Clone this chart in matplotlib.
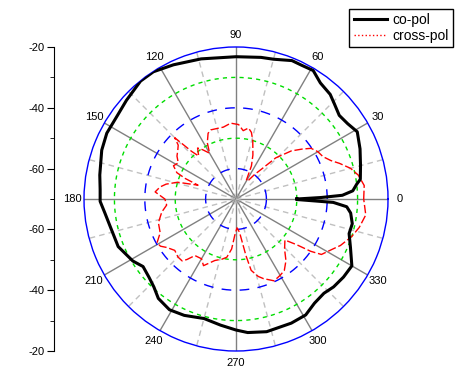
import numpy as np
import matplotlib.pyplot as plt
from matplotlib.lines import Line2D

plt.rcParams['font.family'] = ['Liberation Sans', 'DejaVu Sans']

# co-pol pattern, angle (deg) / level (dB)
co_ang = [0, 1, 2, 4, 7, 9, 15, 22, 29, 34, 39, 44, 48, 54, 59, 64, 68, 75, 80, 90,
          104, 115, 123, 129, 138, 145, 153, 160, 170, 176, 181, 186, 192, 202, 211,
          216, 222, 227, 232, 239, 246, 255, 263, 270, 275, 283, 294, 301, 307, 313,
          318, 324, 330, 337, 343, 348, 353, 356, 358, 359.5, 360]
co_db = [-50, -42, -35, -31.5, -30, -28.6, -27.6, -26, -24.4, -25.7, -26.3, -25, -23.7,
         -22.8, -20.7, -21, -20.9, -22.4, -22.7, -23.2, -22.5, -21.3, -20.1, -20.1, -21.5,
         -22.3, -22.3, -23, -24.5, -25.2, -25.3, -26.6, -27.6, -28.2, -30.4, -32.2, -31.5,
         -30.4, -28.5, -27.5, -28.1, -29.3, -28.2, -26.9, -25.9, -25.2, -25.3, -25.5,
         -27.1, -27.6, -26.8, -26.3, -26, -29.1, -31.1, -30.9, -32, -33.5, -38, -50, -50]

# cross-pol pattern
cx_ang = [0, 6, 11, 15, 19, 22, 26, 30, 34, 37, 41, 46, 49, 53, 57, 61, 65, 69, 74, 77,
          80, 84, 88, 94, 100, 104, 110, 113, 117, 120, 124, 127, 131, 133, 135, 137, 140,
          144, 148, 152, 156, 158, 160, 164, 168, 171, 175, 180, 185, 190, 197, 204, 209,
          212, 215, 220, 225, 229, 231, 234, 240, 244, 251, 257, 261, 265, 268, 272, 276,
          280, 282, 286, 289, 295, 300, 304, 309, 314, 320, 323, 325, 327, 333, 336, 342,
          347, 353, 360]
cx_db = [-28, -27.6, -29, -31, -34, -36.3, -38.2, -38.9, -40.2, -42.7, -45.9, -51.2, -56.5,
         -60, -63, -63, -58, -54.5, -50, -47.5, -46.3, -47.4, -45.5, -45, -46, -46, -45.8,
         -46.5, -49.2, -52.6, -50.5, -49, -51.3, -48.6, -41.5, -44, -45, -46, -47.6, -46.7,
         -48.7, -52, -56.7, -50, -46.5, -44.7, -43.3, -46.6, -47.1, -45.2, -43.3, -42.7,
         -40.3, -40.7, -42.2, -43.7, -43, -43, -44.4, -47, -47.3, -45.6, -48.6, -49.7,
         -50.6, -53.5, -58, -60.5, -59, -51, -46, -43.5, -42.3, -40.3, -41, -41.6, -43.9,
         -47, -49, -45, -40, -36.5, -34, -32.4, -30, -28.4, -27, -28]

r_min, r_max = -70, -20
ring_db = [-60, -50, -40, -30]
ring_col = ['blue', '#00dd00', 'blue', '#00dd00']
ring_ls = [(0, (7, 6)), (0, (3, 3)), (0, (7, 6)), (0, (3, 3))]
theta_lbl = list(range(0, 360, 30))
left_major = [-20, -40, -60]
left_minor = [-30, -50, -70]

fig = plt.figure(figsize=(4.68, 3.75), dpi=100)
ax = fig.add_axes([0.1795, 0.064, 0.6496, 0.8107], projection='polar')
ax.set_rlim(r_min, r_max)
ax.grid(False)
ax.set_rticks([])

# spokes
for a in range(0, 360, 15):
    t = np.deg2rad(a)
    if a % 30 == 0:
        ax.plot([t, t], [r_min, r_max], color='#808080', lw=1, zorder=1)
    else:
        ax.plot([t, t], [r_min, r_max], color='#c0c0c0', lw=1, ls=(0, (4, 3)), zorder=1)

# rings
th = np.linspace(0, 2 * np.pi, 721)
for r, c, ls in zip(ring_db, ring_col, ring_ls):
    ax.plot(th, np.full_like(th, r), color=c, ls=ls, lw=1, zorder=2)

ax.spines['polar'].set_color('blue')
ax.spines['polar'].set_linewidth(1)

ax.plot(np.deg2rad(cx_ang), cx_db, color='red', lw=1, ls=(0, (6, 2)), zorder=3)
ax.plot(np.deg2rad(co_ang), co_db, color='black', lw=2.2, zorder=4)

ax.set_xticks(np.deg2rad(theta_lbl))
ax.set_xticklabels([str(a) for a in theta_lbl], fontsize=8)
ax.tick_params(axis='x', pad=-2)

# left scale
lax = fig.add_axes([54 / 468, 0.064, 0.001, 0.8107])
lax.set_ylim(-(r_max - r_min), r_max - r_min)
for s in ['top', 'right', 'bottom']:
    lax.spines[s].set_visible(False)
lax.set_xticks([])
pos = [v - r_min for v in left_major] + [-(v - r_min) for v in left_major]
lax.set_yticks(pos)
lax.set_yticklabels([str(v) for v in left_major] * 2, fontsize=8)
mpos = [v - r_min for v in left_minor] + [-(v - r_min) for v in left_minor]
lax.set_yticks(mpos, minor=True)
lax.tick_params(axis='y', which='major', length=5, pad=2)
lax.tick_params(axis='y', which='minor', length=3)

handles = [Line2D([], [], color='black', lw=2.2),
           Line2D([], [], color='red', lw=1, ls=':')]
leg = fig.legend(handles, ['co-pol', 'cross-pol'], loc='upper right',
                 bbox_to_anchor=(453 / 468, 1 - 9 / 375), fontsize=10,
                 fancybox=False, edgecolor='black', framealpha=1,
                 borderaxespad=0, handlelength=2.4, labelspacing=0.15,
                 borderpad=0.3, handletextpad=0.4)
leg.get_frame().set_linewidth(1)

fig.savefig('out.png', dpi=100)
